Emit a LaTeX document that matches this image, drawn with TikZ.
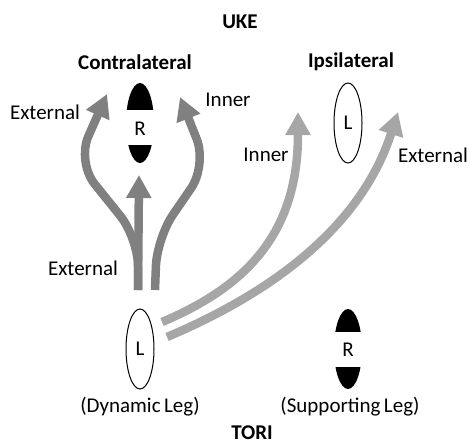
\documentclass[tikz,border=0pt]{standalone}
\usepackage{fontspec}
\setmainfont{Carlito}
\usepackage{tikz}
\usetikzlibrary{shapes.geometric, positioning, calc, arrows.meta}

\begin{document}
\begin{tikzpicture}[
	x=0.5pt, y=-0.5pt,
	font=\fontsize{10.5}{12}\selectfont,
	title/.style={font=\fontsize{10.5}{12}\selectfont\bfseries},
	leg/.style={ellipse, inner sep=0pt, minimum width=14pt, minimum height=40pt},
	leg open/.style={leg, draw=black, line width=0.5pt},
	leg filled/.style={leg, fill=black},
	dark arrow/.style={draw=black!50, line width=4.25pt, rounded corners=14,
		-{Triangle[length=11.5pt, width=12pt]}},
	light arrow/.style={draw=black!35, line width=4.25pt,
		-{Triangle[length=11.5pt, width=12pt]}}
	]
	
	\useasboundingbox (0,0) rectangle (470,445);
	
	% --- TITLES ---
	\node[title] (uke) at (240,22) {UKE};
	\node[title] (tori) at (252,433) {TORI};
	\node[title] (contra) at (135,62) {Contralateral};
	\node[title] (ipsi) at (351,62) {Ipsilateral};
	
	% --- FEET ---
	% Contralateral (right, half covered)
	\node[leg filled] (contraR) at (140,123) {};
	\fill[white] (120,110) rectangle (160,145);
	\node (contraRtext) at (140,129) {R};
	
	% Ipsilateral (left)
	\node[leg open] (ipsiL) at (348,123) {L};
	
	% Dynamic leg
	\node[leg open] (dynL) at (140,349) {L};
	\node (dyntext) at (140,407) {(Dynamic\,Leg)};
	
	% Supporting leg
	\node[leg filled] (supR) at (348,349) {};
	\fill[white] (328,332) rectangle (368,367);
	\node (suptext) at (348,350) {R};
	\node (suplabel) at (350,407) {(Supporting\,Leg)};
	
	% --- ARROW END POINTS ---
	\coordinate (stem) at (138,290);
	\coordinate (stemR) at (155,290);
	\coordinate (contraExt) at (107,94);
	\coordinate (contraMid) at (139,175);
	\coordinate (contraInn) at (180,97);
	\coordinate (ipsiStartA) at (162,322);
	\coordinate (ipsiStartB) at (167,337);
	\coordinate (ipsiInn) at (298,112);
	\coordinate (ipsiExt) at (398,112);
	
	% --- CONTRALATERAL ARROWS ---
	\draw[dark arrow] (stem) -- (138,238) -- (77,162) -- (contraExt);
	\draw[dark arrow] (stem) -- (contraMid);
	\draw[dark arrow] (stemR) -- (157,238) -- (207,165) -- (contraInn);
	
	% --- IPSILATERAL ARROWS ---
	\draw[light arrow] (ipsiStartA) .. controls (250,285) and (298,230) .. (ipsiInn);
	\draw[light arrow] (ipsiStartB) .. controls (290,285) and (365,215) .. (ipsiExt);
	
	% --- ARROW LABELS ---
	\node (extL) at (45,112) {External};
	\node (innL) at (228,100) {Inner};
	\node (extB) at (83,268) {External};
	\node (innR) at (266,155) {Inner};
	\node (extR) at (433,155) {External};
	
\end{tikzpicture}
\end{document}
